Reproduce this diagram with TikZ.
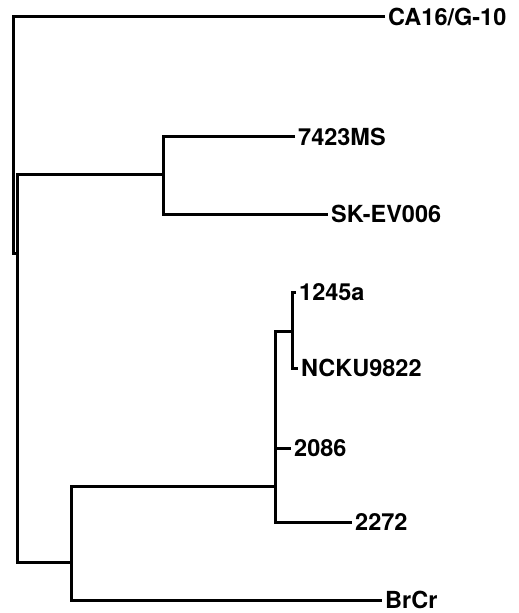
\documentclass[tikz,border=0pt]{standalone}
\usepackage{fontspec}
\setmainfont{TeX Gyre Heros}
\begin{document}
\begin{tikzpicture}[x=1bp,y=-1bp,
  branch/.style={line width=3bp,line join=miter},
  leaf/.style={anchor=west,inner xsep=3bp,inner ysep=0pt,text height=16.9bp,text depth=0pt,
    font=\fontsize{23.5bp}{26bp}\selectfont\bfseries}]
\useasboundingbox (0,0) rectangle (519,613);
% leaves
\node[leaf] (ca)   at (385,17)  {CA16/G-10};
\node[leaf] (ms)   at (295,137) {7423MS};
\node[leaf] (sk)   at (328,214) {SK-EV006};
\node[leaf] (a1245) at (296,292) {1245a};
\node[leaf] (ncku) at (298,368) {NCKU9822};
\node[leaf] (n2086) at (291,448) {2086};
\node[leaf] (n2272) at (352,522) {2272};
\node[leaf] (brcr) at (382,600) {BrCr};
% internal nodes
\coordinate (R) at (13,253);
\coordinate (S) at (17,253);
\coordinate (W) at (163,174);
\coordinate (T) at (71,562);
\coordinate (U) at (275,486);
\coordinate (V) at (292,331);
% branches
\draw[branch] (ca.west) -| (R) -- (S);
\draw[branch] (ms.west) -| (W) |- (sk.west);
\draw[branch] (W) -| (S) |- (T);
\draw[branch] (U) -| (T) |- (brcr.west);
\draw[branch] (V) -| (U) |- (n2272.west);
\draw[branch] (U |- n2086.west) -- (n2086.west);
\draw[branch] (a1245.west) -| (V) |- (ncku.west);
\end{tikzpicture}
\end{document}
